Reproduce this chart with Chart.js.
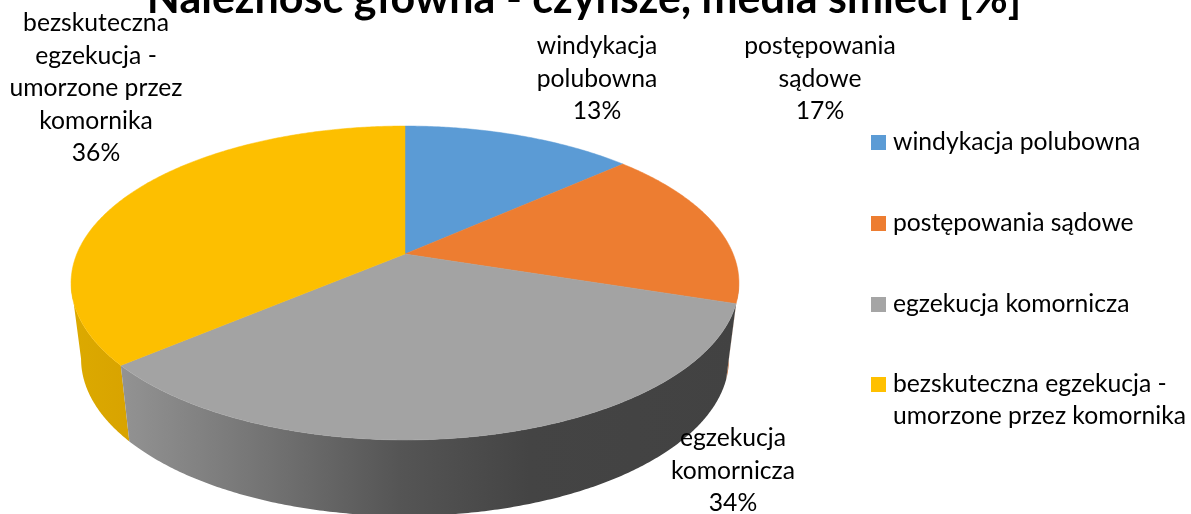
<!DOCTYPE html>
<html lang="pl">
<head>
<meta charset="utf-8">
<style>
html,body{margin:0;padding:0;background:#fff;overflow:hidden}
canvas{display:block}
</style>
<script src="https://cdn.jsdelivr.net/npm/chart.js@4/dist/chart.umd.js"></script>
</head>
<body>
<canvas id="c" width="1191" height="514"></canvas>
<script>
const titleText = "Należność główna - czynsze, media śmieci [%]";
const categories = ["windykacja polubowna", "postępowania sądowe", "egzekucja komornicza", "bezskuteczna egzekucja - umorzone przez komornika"];
const values = [13.4, 16.6, 33.8, 36.2];
const legendLines = [["windykacja polubowna"], ["postępowania sądowe"], ["egzekucja komornicza"], ["bezskuteczna egzekucja -", "umorzone przez komornika"]];
const labelLines = [["windykacja", "polubowna"], ["postępowania", "sądowe"], ["egzekucja", "komornicza"], ["bezskuteczna", "egzekucja -", "umorzone przez", "komornika"]];
const colors = ["#5b9bd5", "#ed7d31", "#a3a3a3", "#fdbf00"];
const legendColors = ["#5b9bd5", "#ed7d31", "#a5a5a5", "#ffc000"];

/* layout of the text, separate from the data */
const FONT = "Lato, Carlito, Calibri, sans-serif";
const labelPlace = [{x:597,y:54},{x:820,y:54},{x:733,y:446},{x:96,y:31}];
const legendPlace = [150,231,312,392];

/* perspective disc: apex from the library's arc element */
const G = {rx:328.2, ry:151.6, p:0.1847, sx:0.97, baseDy:76};
function topPt(a, th){
  const x=Math.sin(th), y=-Math.cos(th), w=1/(1-G.p*y);
  return [a.x+G.rx*x*w, a.y+G.ry*y*w];
}
function basePt(a, th){
  const t=topPt(a,th);
  return [a.x+(t[0]-a.x)*G.sx, t[1]+G.baseDy];
}
const STEP=Math.PI/360;
function side(ctx,a,t0,t1,fill){
  ctx.beginPath();
  for(let t=t0;t<t1;t+=STEP){const p=topPt(a,t);ctx.lineTo(p[0],p[1]);}
  let p=topPt(a,t1);ctx.lineTo(p[0],p[1]);
  p=basePt(a,t1);ctx.lineTo(p[0],p[1]);
  for(let t=t1;t>t0;t-=STEP){const q=basePt(a,t);ctx.lineTo(q[0],q[1]);}
  p=basePt(a,t0);ctx.lineTo(p[0],p[1]);
  ctx.closePath();
  ctx.fillStyle=fill;ctx.fill();
}
const pie3d={
  id:'pie3d',
  beforeDatasetDraw(chart,args){
    const ctx=chart.ctx, arcs=chart.getDatasetMeta(args.index).data;
    const th=arcs.map(a=>[a.startAngle+Math.PI/2,a.endAngle+Math.PI/2]);
    const a0=arcs[0];
    const ext=Math.acos(-G.p);           /* angle where the outline is widest */
    ctx.save();
    const gy=ctx.createLinearGradient(70,0,130,0);
    gy.addColorStop(0,'#dcaa00');gy.addColorStop(1,'#d8a300');
    side(ctx,a0,th[3][0],2*Math.PI-ext,gy);
    side(ctx,a0,ext,th[1][1],'#b9612a');
    const gg=ctx.createLinearGradient(120,0,740,0);
    gg.addColorStop(0,'#939393');gg.addColorStop(0.2,'#787878');
    gg.addColorStop(0.45,'#555555');gg.addColorStop(0.66,'#444444');gg.addColorStop(1,'#424242');
    side(ctx,a0,th[2][0],th[2][1],gg);
    arcs.forEach((a,i)=>{
      ctx.beginPath();ctx.moveTo(a.x,a.y);
      for(let t=th[i][0];t<th[i][1];t+=STEP){const p=topPt(a,t);ctx.lineTo(p[0],p[1]);}
      const p=topPt(a,th[i][1]);ctx.lineTo(p[0],p[1]);
      ctx.closePath();
      const col=a.options.backgroundColor;
      ctx.fillStyle=col;ctx.strokeStyle=col;ctx.lineWidth=0.5;ctx.fill();ctx.stroke();
    });
    ctx.restore();
    return false;
  },
  afterDraw(chart){
    const ctx=chart.ctx;
    ctx.save();
    ctx.fillStyle='#000';ctx.textBaseline='alphabetic';
    ctx.textAlign='center';
    ctx.font='bold 43px '+FONT;
    ctx.fillText(titleText,584,13);
    ctx.font='24.7px '+FONT;
    ctx.fillStyle='#000';
    labelLines.forEach((lines,i)=>{
      const pl=labelPlace[i],all=lines.concat([Math.round(values[i])+'%']);
      all.forEach((s,k)=>ctx.fillText(s,pl.x,pl.y+k*32.5));
    });
    ctx.textAlign='left';
    legendLines.forEach((lines,i)=>{
      ctx.fillStyle=legendColors[i];
      ctx.fillRect(871,legendPlace[i]-15,15,15);
      ctx.fillStyle='#000';
      lines.forEach((s,k)=>ctx.fillText(s,893,legendPlace[i]+k*32));
    });
    ctx.restore();
  }
};
new Chart(document.getElementById('c'),{
  type:'pie',
  data:{labels:categories,datasets:[{data:values,backgroundColor:colors,borderWidth:0}]},
  options:{
    responsive:false,animation:false,
    layout:{padding:{left:0,right:381,top:0,bottom:6}},
    plugins:{legend:{display:false},title:{display:false},tooltip:{enabled:false}}
  },
  plugins:[pie3d]
});
</script>
</body>
</html>
